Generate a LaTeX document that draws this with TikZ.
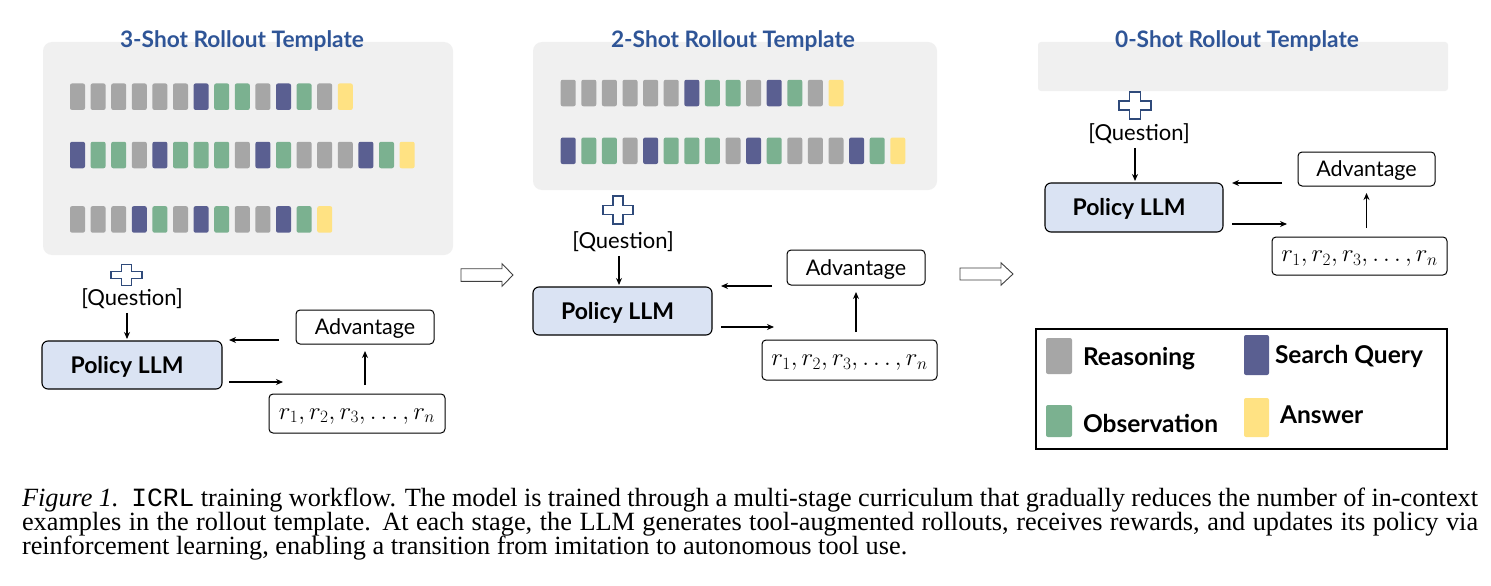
\documentclass[tikz,border=0pt]{standalone}
\usepackage{fontspec}
\setmainfont{Liberation Serif}
\newfontfamily\dfont{Lato}
\newfontfamily\capmono{Liberation Mono}
\usetikzlibrary{arrows.meta}
\definecolor{cR}{HTML}{A6A6A6}
\definecolor{cS}{HTML}{5A5F91}
\definecolor{cO}{HTML}{7BB190}
\definecolor{cA}{HTML}{FFE283}
\definecolor{panelbg}{HTML}{F0F0F0}
\definecolor{titleblue}{HTML}{2F5597}
\definecolor{policyfill}{HTML}{DAE3F3}
\definecolor{plusblue}{HTML}{2F4A7A}
% cross icon: centre x, centre y, width, height
\newcommand\plusicon[4]{%
  \draw[plusst] ({#1-#3/6},{#2-#4/2}) -- ({#1+#3/6},{#2-#4/2}) -- ({#1+#3/6},{#2-#4/6})
   -- ({#1+#3/2},{#2-#4/6}) -- ({#1+#3/2},{#2+#4/6}) -- ({#1+#3/6},{#2+#4/6})
   -- ({#1+#3/6},{#2+#4/2}) -- ({#1-#3/6},{#2+#4/2}) -- ({#1-#3/6},{#2+#4/6})
   -- ({#1-#3/2},{#2+#4/6}) -- ({#1-#3/2},{#2-#4/6}) -- ({#1-#3/6},{#2-#4/6}) -- cycle;}
% hollow arrow: x start, x head start, x tip, centre y, shaft half, head half
\newcommand\hollowarrow[6]{%
  \draw[hollowst] (#1,{#4-#5}) -- (#2,{#4-#5}) -- (#2,{#4-#6}) -- (#3,#4) -- (#2,{#4+#6})
   -- (#2,{#4+#5}) -- (#1,{#4+#5}) -- cycle;}
\begin{document}
\begin{tikzpicture}[x=1pt,y=-1pt,
  every node/.style={inner sep=0pt,outer sep=0pt},
  tok/.style={minimum width=15pt,minimum height=26.5pt,rounded corners=2pt,draw=none},
  panel/.style={fill=panelbg,rounded corners=9pt,draw=none},
  ttl/.style={font=\dfont\bfseries\fontsize{22.7}{26}\selectfont,text=titleblue,anchor=base},
  policy/.style={draw=black,fill=policyfill,rounded corners=6pt,line width=1.1pt,
    font=\dfont\bfseries\fontsize{23}{28}\selectfont,text height=16.5pt,text depth=0pt},
  advbox/.style={draw=black,fill=white,rounded corners=4pt,line width=1pt,
    font=\dfont\fontsize{21.5}{25}\selectfont,text height=15pt,text depth=0pt},
  rbox/.style={draw=black,fill=white,rounded corners=4pt,line width=1pt,
    font=\fontsize{26}{30}\selectfont,text height=11pt,text depth=0pt},
  qtext/.style={font=\dfont\fontsize{22}{26}\selectfont,anchor=base},
  legtxt/.style={font=\dfont\bfseries\fontsize{24.5}{30}\selectfont,anchor=base west},
  legsq/.style={rounded corners=2pt,draw=none},
  arr/.style={-{Stealth[length=7pt,width=6pt]},line width=1.3pt},
  plusst/.style={draw=plusblue,fill=white,line width=1.1pt,line join=miter},
  hollowst/.style={draw=black!75,fill=white,line width=0.9pt,line join=miter},
  captxt/.style={font=\fontsize{26.3}{24}\selectfont,anchor=base west}
]
\useasboundingbox (0,0) rectangle (1491,586);
\fill[white] (0,0) rectangle (1491,586);

% ---------- panels ----------
\node[panel,minimum width=410pt,minimum height=213pt] (bg1) at (248,148.5) {};
\node[panel,minimum width=404pt,minimum height=148pt] (bg2) at (735,116) {};
\node[panel,rounded corners=3pt,minimum width=410pt,minimum height=49pt] (bg3) at (1243,66.5) {};

% ---------- tokens panel 1 ----------
\foreach \c [count=\i from 0] in {R,R,R,R,R,R,S,O,O,R,S,O,R,A}
  \node[tok,fill=c\c] (p1a\i) at ({77.5+20.6*\i},96.7) {};
\foreach \c [count=\i from 0] in {S,O,O,R,S,O,O,O,R,S,O,R,R,R,S,O,A}
  \node[tok,fill=c\c] (p1b\i) at ({77.5+20.6*\i},155) {};
\foreach \c [count=\i from 0] in {R,R,R,S,O,R,S,O,R,R,S,O,A}
  \node[tok,fill=c\c] (p1c\i) at ({77.5+20.6*\i},219.4) {};
% ---------- tokens panel 2 ----------
\foreach \c [count=\i from 0] in {R,R,R,R,R,R,S,O,O,R,S,O,R,A}
  \node[tok,fill=c\c] (p2a\i) at ({568.2+20.6*\i},93) {};
\foreach \c [count=\i from 0] in {S,O,O,R,S,O,O,O,R,S,O,R,R,R,S,O,A}
  \node[tok,fill=c\c] (p2b\i) at ({568.2+20.6*\i},150.8) {};

% ---------- titles ----------
\node[ttl] (t1) at (242,48) {3-Shot Rollout Template};
\node[ttl] (t2) at (733,48) {2-Shot Rollout Template};
\node[ttl] (t3) at (1237,48) {0-Shot Rollout Template};

% ---------- plus icons ----------
\plusicon{126.5}{275}{31}{21}
\plusicon{618}{210}{30}{28}
\plusicon{1135}{105.5}{32}{27}

% ---------- panel 1 workflow ----------
\node[qtext] (q1) at (132,305) {[Question]};
\node[policy,minimum width=180pt,minimum height=48pt] (pol1) at (132,365) {\hspace*{-10pt}Policy LLM};
\node[advbox,minimum width=138pt,minimum height=34pt] (adv1) at (365,327) {Advantage};
\node[rbox,minimum width=176pt,minimum height=39pt] (r1) at (357,413.5) {$r_1, r_2, r_3, \ldots, r_n$};
\draw[arr,shorten <=4.5pt,shorten >=2pt] ([xshift=-5pt]q1.south) -- ([xshift=-5pt]q1.south |- pol1.north);
\coordinate (l1s) at (279,340); \coordinate (l1e) at (229,340);
\coordinate (g1s) at (229,382); \coordinate (g1e) at (283,382);
\draw[arr] (l1s) -- (l1e);
\draw[arr] (g1s) -- (g1e);
\draw[arr,shorten <=9pt,shorten >=7pt] (r1.north -| adv1.south) -- (adv1.south);

% ---------- panel 2 workflow ----------
\node[qtext] (q2) at (623,248) {[Question]};
\node[policy,minimum width=179pt,minimum height=48pt] (pol2) at (622.5,311) {\hspace*{-10pt}Policy LLM};
\node[advbox,minimum width=138pt,minimum height=35pt] (adv2) at (856,267.5) {Advantage};
\node[rbox,minimum width=175pt,minimum height=40pt] (r2) at (849.5,360) {$r_1, r_2, r_3, \ldots, r_n$};
\draw[arr,shorten <=4.5pt,shorten >=2pt] ([xshift=-4pt]q2.south) -- ([xshift=-4pt]q2.south |- pol2.north);
\coordinate (l2s) at (772,286); \coordinate (l2e) at (721,286);
\coordinate (g2s) at (721,327); \coordinate (g2e) at (774,327);
\draw[arr] (l2s) -- (l2e);
\draw[arr] (g2s) -- (g2e);
\draw[arr,shorten <=8pt,shorten >=7pt] (r2.north -| adv2.south) -- (adv2.south);

% ---------- panel 3 workflow ----------
\node[qtext] (q3) at (1139,140) {[Question]};
\node[policy,minimum width=178pt,minimum height=49pt] (pol3) at (1134,207.5) {\hspace*{-10pt}Policy LLM};
\node[advbox,minimum width=137pt,minimum height=34pt] (adv3) at (1366.5,169) {Advantage};
\node[rbox,minimum width=175pt,minimum height=38pt] (r3) at (1359.5,256) {$r_1, r_2, r_3, \ldots, r_n$};
\draw[arr,shorten <=4.5pt,shorten >=2pt] ([xshift=-4pt]q3.south) -- ([xshift=-4pt]q3.south |- pol3.north);
\coordinate (l3s) at (1282,183); \coordinate (l3e) at (1232,183);
\coordinate (g3s) at (1232,224); \coordinate (g3e) at (1287,224);
\draw[arr] (l3s) -- (l3e);
\draw[arr] (g3s) -- (g3e);
\draw[arr,shorten <=9pt,shorten >=7pt] (r3.north -| adv3.south) -- (adv3.south);

% ---------- stage arrows ----------
\hollowarrow{461}{502}{513}{275}{6.3}{11.3}
\hollowarrow{960}{1001}{1013}{274}{6}{11.2}

% ---------- legend ----------
\node[draw=black,line width=1.2pt,minimum width=411pt,minimum height=120pt] (leg) at (1241.5,389) {};
\node[legsq,fill=cR,minimum width=26pt,minimum height=36pt] (lgR) at (1059,356) {};
\node[legsq,fill=cS,minimum width=25pt,minimum height=40pt] (lgS) at (1256.5,355) {};
\node[legsq,fill=cO,minimum width=26pt,minimum height=32pt] (lgO) at (1059,421) {};
\node[legsq,fill=cA,minimum width=25pt,minimum height=39pt] (lgA) at (1256.5,417.5) {};
\node[legtxt] (ltR) at (1083,365) {Reasoning};
\node[legtxt] (ltS) at (1275,363) {Search Query};
\node[legtxt] (ltO) at (1083,432) {Observation};
\node[legtxt] (ltA) at (1280,423) {Answer};

% ---------- caption ----------
\node[captxt] (cap1) at (22,506) {\hbox to 1456pt{\textit{Figure 1.}\ \ {\capmono ICRL} training workflow. The model is trained through a multi-stage curriculum that gradually reduces the number of in-context}};
\node[captxt] (cap2) at (22,530) {\hbox to 1456pt{examples in the rollout template. At each stage, the LLM generates tool-augmented rollouts, receives rewards, and updates its policy via}};
\node[captxt] (cap3) at (22,554) {reinforcement learning, enabling a transition from imitation to autonomous tool use.};
\end{tikzpicture}
\end{document}
